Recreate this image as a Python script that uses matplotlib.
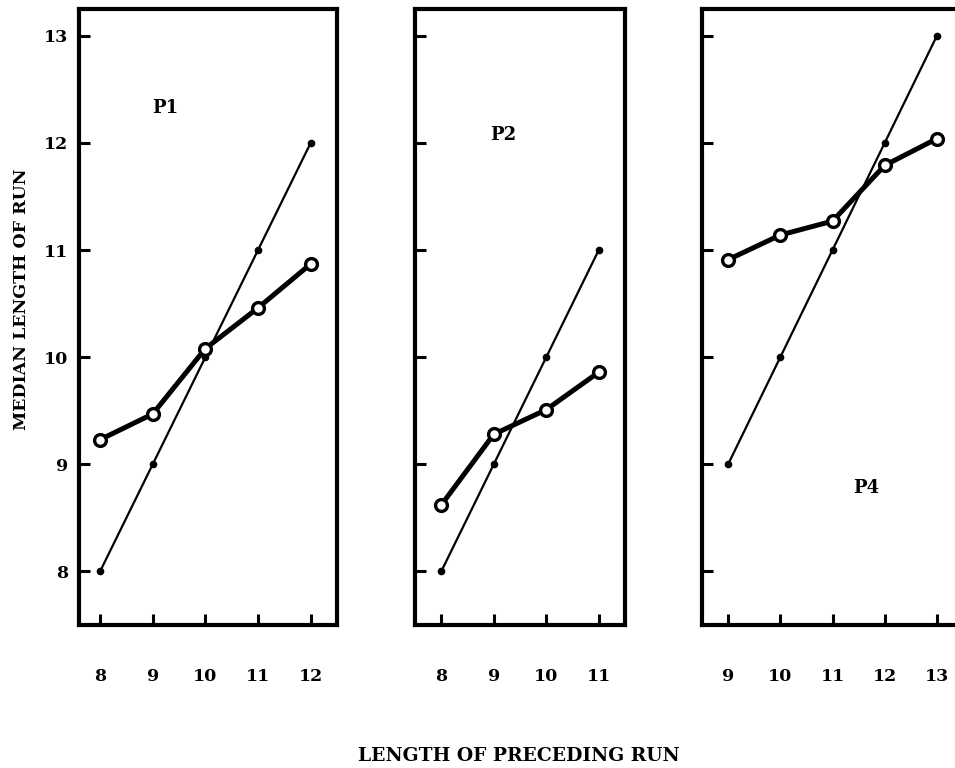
import numpy as np
import matplotlib.pyplot as plt

# data
p1_x = [8, 9, 10, 11, 12]
p1_pred = [8, 9, 10, 11, 12]
p1_obs = [9.23, 9.47, 10.08, 10.46, 10.87]

p2_x = [8, 9, 10, 11]
p2_pred = [8, 9, 10, 11]
p2_obs = [8.62, 9.28, 9.51, 9.86]

p4_x = [9, 10, 11, 12, 13]
p4_pred = [9, 10, 11, 12, 13]
p4_obs = [10.91, 11.14, 11.27, 11.79, 12.04]

y_ticks = [8, 9, 10, 11, 12, 13]

panels = [
    ("P1", p1_x, p1_pred, p1_obs, (7.6, 12.5), (165, 108)),
    ("P2", p2_x, p2_pred, p2_obs, (7.5, 11.5), (503, 135)),
    ("P4", p4_x, p4_pred, p4_obs, (8.5, 13.5), (866, 488)),
]
# axes boxes in pixels (left, right)
boxes = [(79, 337), (415, 625), (702, 963)]

W, H = 955, 768
fig = plt.figure(figsize=(W / 100, H / 100), dpi=100)
font = dict(family='DejaVu Serif', fontweight='bold')

top, bot = 9, 625
for i, (name, xs, pred, obs, xl, lab) in enumerate(panels):
    l, r = boxes[i]
    ax = fig.add_axes([l / W, 1 - bot / H, (r - l) / W, (bot - top) / H])
    ax.plot(xs, pred, color='black', lw=1.6, marker='o', ms=4.5,
            mfc='black', mec='black', zorder=2)
    ax.plot(xs, obs, color='black', lw=3.6, marker='o', ms=8.5,
            mfc='white', mec='black', mew=2.4, zorder=3)
    ax.set_xlim(*xl)
    ax.set_ylim(7.5, 13.25)
    ax.set_xticks(xs)
    ax.set_yticks(y_ticks)
    ax.tick_params(direction='in', length=8, width=2.2, color='black')
    ax.tick_params(axis='x', pad=31)
    ax.tick_params(axis='y', pad=8)
    for s in ax.spines.values():
        s.set_linewidth(3)
    ax.set_xticklabels([str(v) for v in xs], fontsize=12.5, **font)
    if i == 0:
        ax.set_yticklabels([str(v) for v in y_ticks], fontsize=12.5, **font)
    else:
        ax.set_yticklabels([])
    fig.text(lab[0] / W, 1 - lab[1] / H, name, ha='center', va='center',
             fontsize=13, **font)

fig.text(519 / W, 1 - 756 / H, "LENGTH OF PRECEDING RUN", ha='center',
         va='center', fontsize=13.5, **font)
fig.text(22 / W, 1 - 299 / H, "MEDIAN LENGTH OF RUN", ha='center',
         va='center', rotation=90, fontsize=12.5, **font)

fig.savefig('out.png', dpi=100)
